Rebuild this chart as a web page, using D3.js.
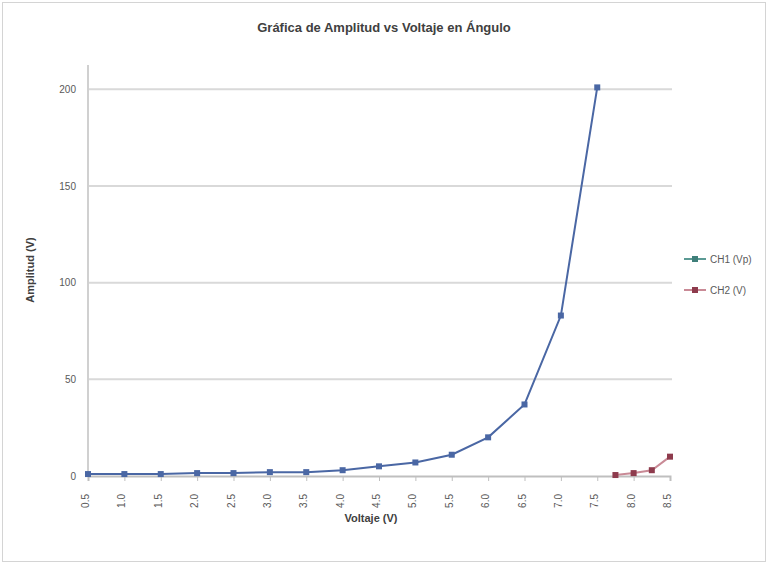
<!DOCTYPE html>
<html>
<head>
<meta charset="utf-8">
<script src="https://cdn.jsdelivr.net/npm/d3@7"></script>
<style>
  body { margin: 0; background: #fff; }
  svg { font-family: "Liberation Sans", "DejaVu Sans", sans-serif; }
</style>
</head>
<body>
<svg id="chart"></svg>
<script>
// datos
const xLabels = ['0.5','1.0','1.5','2.0','2.5','3.0','3.5','4.0','4.5','5.0','5.5','6.0','6.5','7.0','7.5','8.0','8.5'];
const ch1Pos = [0,1,2,3,4,5,6,7,8,9,10,11,12,13,14];
const ch1Val = [1,1,1,1.5,1.5,2,2,3,5,7,11,20,37,83,201];
const ch2Pos = [14.5,15,15.5,16];
const ch2Val = [0.5,1.5,3,10];
const yTicks = [0,50,100,150,200];
const seriesNames = ['CH1 (Vp)','CH2 (V)'];
const seriesColors = ['#4a67a4','#8e3b4d'];

const width = 769, height = 565;
const margin = {top: 70, right: 99, bottom: 89, left: 88};

const svg = d3.select('#chart')
    .attr('width', width)
    .attr('height', height);

// marco exterior
svg.append('rect')
    .attr('x', 2.5).attr('y', 2.5)
    .attr('width', width - 6).attr('height', height - 6)
    .attr('fill', '#fff')
    .attr('stroke', '#d4d4d4');

const chart = svg.append('g')
    .attr('transform', `translate(${margin.left}, ${margin.top})`);

const innerW = width - margin.left - margin.right;   // 582
const innerH = height - margin.top - margin.bottom;  // 406

const xscale = d3.scaleLinear()
    .domain([0, xLabels.length - 1])
    .range([0, innerW]);

const yscale = d3.scaleLinear()
    .domain([0, 210])
    .range([innerH, 0]);

// lineas de cuadricula
chart.append('g')
    .selectAll('line')
    .data(yTicks.filter(d => d > 0))
    .join('line')
    .attr('x1', 0).attr('x2', innerW + 2)
    .attr('y1', d => yscale(d)).attr('y2', d => yscale(d))
    .attr('stroke', '#d9d9d9')
    .attr('stroke-width', 2);

// eje y
const yaxis = d3.axisLeft(yscale).tickValues(yTicks).tickSize(0).tickPadding(12);
const yg = chart.append('g').call(yaxis);
yg.select('.domain').attr('stroke', '#d0d0d0').attr('stroke-width', 2)
    .attr('d', `M0,${innerH}V${-5}`);
yg.selectAll('text').attr('font-size', 10).attr('fill', '#595959');

// eje x
const xaxis = d3.axisBottom(xscale)
    .tickValues(d3.range(xLabels.length))
    .tickFormat(i => xLabels[i])
    .tickSize(5).tickPadding(6);
const xg = chart.append('g')
    .attr('transform', `translate(0, ${innerH})`)
    .call(xaxis);
xg.select('.domain').attr('stroke', '#bfbfbf').attr('stroke-width', 2);
xg.selectAll('.tick line').attr('stroke', '#bfbfbf');
xg.selectAll('text')
    .attr('font-size', 10)
    .attr('fill', '#595959')
    .attr('text-anchor', 'end')
    .attr('dx', '-0.6em')
    .attr('dy', '-0.35em')
    .attr('x', 0).attr('y', 0)
    .attr('transform', 'translate(4, 12) rotate(-90)');

// series
const line = d3.line()
    .x(d => xscale(d[0]))
    .y(d => yscale(d[1]));

const series = [
    d3.zip(ch1Pos, ch1Val),
    d3.zip(ch2Pos, ch2Val)
];

series.forEach((s, k) => {
    chart.append('path')
        .datum(s)
        .attr('d', line)
        .attr('fill', 'none')
        .attr('stroke', k === 0 ? seriesColors[0] : '#c98a96')
        .attr('stroke-width', 2);
    chart.append('g')
        .selectAll('rect')
        .data(s)
        .join('rect')
        .attr('x', d => xscale(d[0]) - 3)
        .attr('y', d => yscale(d[1]) - 3)
        .attr('width', 6).attr('height', 6)
        .attr('fill', seriesColors[k]);
});

// titulo
svg.append('text')
    .attr('x', 384).attr('y', 32)
    .attr('text-anchor', 'middle')
    .attr('font-size', 13)
    .attr('font-weight', 'bold')
    .attr('fill', '#404040')
    .text('Gráfica de Amplitud vs Voltaje en Ángulo');

// etiquetas de ejes
svg.append('text')
    .attr('x', 371).attr('y', 522)
    .attr('text-anchor', 'middle')
    .attr('font-size', 11)
    .attr('font-weight', 'bold')
    .attr('fill', '#404040')
    .text('Voltaje (V)');

svg.append('text')
    .attr('transform', 'translate(34, 270) rotate(-90)')
    .attr('text-anchor', 'middle')
    .attr('font-size', 11)
    .attr('font-weight', 'bold')
    .attr('fill', '#404040')
    .text('Amplitud (V)');

// leyenda
const legend = svg.append('g')
    .attr('transform', 'translate(684, 259)');
seriesNames.forEach((name, k) => {
    const g = legend.append('g').attr('transform', `translate(0, ${k * 31})`);
    g.append('line')
        .attr('x1', 0).attr('x2', 22)
        .attr('stroke', k === 0 ? '#5b9a94' : '#c98a96')
        .attr('stroke-width', 2);
    g.append('rect')
        .attr('x', 8).attr('y', -3)
        .attr('width', 6).attr('height', 6)
        .attr('fill', k === 0 ? '#3f7f7a' : seriesColors[1]);
    g.append('text')
        .attr('x', 26).attr('y', 4)
        .attr('font-size', 10)
        .attr('fill', '#595959')
        .text(name);
});
</script>
</body>
</html>
